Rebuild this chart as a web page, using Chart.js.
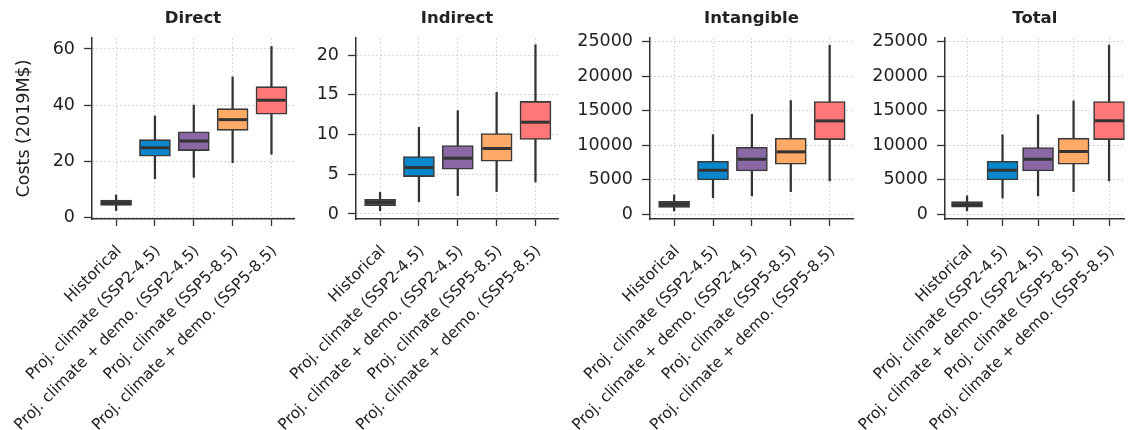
<!DOCTYPE html>
<html>
<head>
<meta charset="utf-8">
<script src="https://cdn.jsdelivr.net/npm/chart.js@4.4.1/dist/chart.umd.min.js"></script>
<style>
  html, body { margin: 0; padding: 0; background: #ffffff; }
  #wrap { position: relative; width: 1142px; height: 430px; overflow: hidden; }
  #wrap canvas { position: absolute; left: 0; top: 0; }
</style>
</head>
<body>
<div id="wrap">
  <canvas id="c1" width="1142" height="430"></canvas>
  <canvas id="c2" width="1142" height="430"></canvas>
  <canvas id="c3" width="1142" height="430"></canvas>
  <canvas id="c4" width="1142" height="430"></canvas>
</div>
<script>
// ---------------- data ----------------
const categories = [
  'Historical',
  'Proj. climate (SSP2-4.5)',
  'Proj. climate + demo. (SSP2-4.5)',
  'Proj. climate (SSP5-8.5)',
  'Proj. climate + demo. (SSP5-8.5)'
];
const panelTitles = ['Direct', 'Indirect', 'Intangible', 'Total'];
const yAxisTitle = 'Costs (2019M$)';

// Direct
const directMin = [2.6, 13.9, 14.4, 19.6, 22.6];
const directQ1  = [4.4, 21.9, 23.9, 31.1, 36.8];
const directMed = [5.3, 24.9, 27.3, 34.9, 41.8];
const directQ3  = [6.3, 27.8, 30.6, 38.8, 46.6];
const directMax = [8.1, 36.2, 40.1, 50.1, 60.9];

// Indirect
const indirectMin = [0.42, 1.55, 2.31, 2.82, 4.03];
const indirectQ1  = [1.05, 4.70, 5.63, 6.64, 9.37];
const indirectMed = [1.47, 5.84, 7.02, 8.24, 11.55];
const indirectQ3  = [1.85, 7.23, 8.61, 10.13, 14.16];
const indirectMax = [2.73, 10.9, 13.0, 15.3, 21.3];

// Intangible
const intangibleMin = [480, 2410, 2650, 3280, 4830];
const intangibleQ1  = [1010, 4970, 6270, 7240, 10810];
const intangibleMed = [1450, 6370, 7960, 9030, 13510];
const intangibleQ3  = [1880, 7670, 9700, 11000, 16310];
const intangibleMax = [2800, 11530, 14480, 16460, 24470];

// Total
const totalMin = [480, 2370, 2660, 3290, 4840];
const totalQ1  = [1020, 4980, 6290, 7250, 10830];
const totalMed = [1400, 6380, 7980, 9090, 13540];
const totalQ3  = [1840, 7690, 9670, 11030, 16340];
const totalMax = [2660, 11510, 14410, 16440, 24520];

// y tick labels per panel
const directTicks = [0, 20, 40, 60];
const indirectTicks = [0, 5, 10, 15, 20];
const intangibleTicks = [0, 5000, 10000, 15000, 20000, 25000];
const totalTicks = [0, 5000, 10000, 15000, 20000, 25000];

// y-axis ranges
const directRange = [-0.4, 63.9];
const indirectRange = [-0.63, 22.14];
const intangibleRange = [-680, 25500];
const totalRange = [-680, 25550];

// ---------------- style ----------------
const boxColors = ['#5a5a5a', '#0a86cc', '#8a68a5', '#ffaa66', '#ff7777'];
const edgeColor = '#3a3a3a';
const gridColor = '#c8c8c8';
const axisColor = '#333333';
const textColor = '#222222';

Chart.defaults.font.family = "'DejaVu Sans', sans-serif";
Chart.defaults.color = textColor;

// panel geometry (pixels): y spine position, right edge of plot, x-range
const panels = [
  { id: 'c1', spine: 92,  right: 294,  xmax: 4.58, yW: 92 },
  { id: 'c2', spine: 356, right: 558,  xmax: 4.58, yW: 85 },
  { id: 'c3', spine: 650, right: 853,  xmax: 4.60, yW: 85 },
  { id: 'c4', spine: 945, right: 1142, xmax: 4.44, yW: 85 }
];
const xmin = -0.62;

const seriesSets = [
  [directMin, directQ1, directMed, directQ3, directMax],
  [indirectMin, indirectQ1, indirectMed, indirectQ3, indirectMax],
  [intangibleMin, intangibleQ1, intangibleMed, intangibleQ3, intangibleMax],
  [totalMin, totalQ1, totalMed, totalQ3, totalMax]
];
const tickSets = [directTicks, indirectTicks, intangibleTicks, totalTicks];
const rangeSets = [directRange, indirectRange, intangibleRange, totalRange];

function makeChart(p, idx) {
  const [mn, q1, med, q3, mx] = seriesSets[idx];
  const whiskers = categories.map((c, i) => ({ x: i, y: [mn[i], mx[i]] }));
  const boxes = categories.map((c, i) => ({ x: i, y: [q1[i], q3[i]] }));
  const medians = categories.map((c, i) => ({ x: i, y: med[i] }));

  new Chart(document.getElementById(p.id), {
    type: 'bar',
    data: {
      datasets: [
        {
          type: 'line', data: medians, showLine: false, order: 0,
          pointStyle: 'line', pointRadius: 14.3, pointHoverRadius: 14.3,
          borderColor: axisColor, pointBorderColor: axisColor, pointBorderWidth: 3,
          backgroundColor: axisColor
        },
        {
          data: boxes, order: 1, grouped: false, barThickness: 31,
          backgroundColor: boxColors, borderColor: edgeColor, borderWidth: 1.6,
          borderSkipped: false
        },
        {
          data: whiskers, order: 2, grouped: false, barThickness: 1.6,
          backgroundColor: axisColor, borderWidth: 0
        }
      ]
    },
    options: {
      responsive: false,
      animation: false,
      devicePixelRatio: 1,
      events: [],
      layout: { padding: { left: p.spine - p.yW, right: 1142 - p.right, top: 0, bottom: 0 } },
      plugins: {
        legend: { display: false },
        tooltip: { enabled: false },
        title: {
          display: true, text: panelTitles[idx], fullSize: false,
          color: textColor,
          font: { size: 16.5, weight: 'bold', lineHeight: 1.2 },
          padding: { top: 9, bottom: 9.2 }
        }
      },
      scales: {
        x: {
          type: 'linear', min: xmin, max: p.xmax, offset: false,
          afterBuildTicks: (s) => { s.ticks = categories.map((c, i) => ({ value: i })); },
          afterFit: (s) => { s.height = 211; },
          ticks: {
            autoSkip: false, minRotation: 45, maxRotation: 45, padding: 16,
            labelOffset: 3,
            color: textColor, font: { size: 15.5 },
            callback: (v) => categories[v]
          },
          grid: {
            offset: false,
            color: gridColor, lineWidth: 1, tickLength: 7, tickColor: axisColor,
            tickWidth: 1.3, tickBorderDash: []
          },
          border: { display: true, color: axisColor, width: 1.5, dash: [1.5, 2.5] }
        },
        y: {
          type: 'linear', min: rangeSets[idx][0], max: rangeSets[idx][1],
          afterBuildTicks: (s) => { s.ticks = tickSets[idx].map(v => ({ value: v })); },
          afterFit: (s) => { s.width = p.yW; },
          ticks: {
            padding: 9, color: textColor, font: { size: 17.5 },
            callback: (v) => String(v)
          },
          grid: {
            color: gridColor, lineWidth: 1, tickLength: 8, tickColor: axisColor,
            tickWidth: 1.3, tickBorderDash: []
          },
          border: { display: true, color: axisColor, width: 1.5, dash: [1.5, 2.5] },
          title: {
            display: idx === 0, text: yAxisTitle, color: textColor,
            font: { size: 17.5, lineHeight: 1.2 }, padding: { top: 14, bottom: 0 }
          }
        }
      }
    }
  });
}

panels.forEach((p, i) => makeChart(p, i));
</script>
</body>
</html>
